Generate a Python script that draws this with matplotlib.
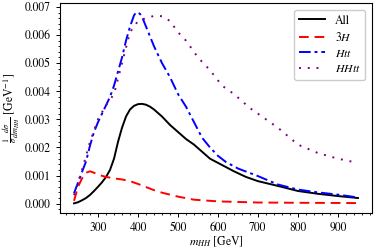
import matplotlib
matplotlib.use("Agg")
import matplotlib.pyplot as plt
from matplotlib.ticker import AutoMinorLocator

plt.rcParams['font.family'] = 'serif'
plt.rcParams['font.serif'] = ['STIXGeneral', 'Liberation Serif', 'DejaVu Serif']
plt.rcParams['mathtext.fontset'] = 'stix'
plt.rcParams['font.size'] = 8.5

# normalised distributions
m_all = [240, 250, 260, 270, 280, 290, 300, 310, 320, 330, 340, 350, 360, 370, 380,
         390, 400, 410, 420, 430, 440, 460, 480, 500, 520, 540, 560, 580, 600, 620,
         640, 670, 700, 750, 800, 850, 900, 950]
all_ = [0.00001, 0.00005, 0.00012, 0.0002, 0.00031, 0.00045, 0.0006, 0.00076, 0.00095,
        0.0012, 0.0016, 0.0022, 0.0027, 0.0031, 0.00335, 0.00348, 0.00354, 0.00355,
        0.00352, 0.00345, 0.00335, 0.0031, 0.0028, 0.00255, 0.0023, 0.0021, 0.00185,
        0.0016, 0.00145, 0.0013, 0.00115, 0.00095, 0.0008, 0.00063, 0.00045, 0.00035,
        0.00027, 0.0002]

m_3h = [240, 250, 260, 270, 280, 290, 300, 320, 340, 360, 380, 400, 420, 440, 460,
        480, 500, 540, 600, 650, 700, 800, 950]
h3 = [0.0001, 0.0006, 0.0009, 0.0011, 0.00115, 0.0011, 0.00103, 0.00095, 0.0009,
      0.00086, 0.0008, 0.0007, 0.00059, 0.00048, 0.00039, 0.00032, 0.00025, 0.00014,
      0.00008, 0.00006, 0.00004, 0.00003, 0.00002]

m_htt = [240, 250, 260, 270, 280, 290, 300, 310, 320, 330, 340, 350, 360, 370, 380,
         390, 395, 400, 405, 410, 420, 440, 460, 480, 500, 520, 540, 560, 580, 600,
         620, 650, 700, 750, 800, 850, 900, 950]
htt = [0.00037, 0.00075, 0.00113, 0.0015, 0.00207, 0.00255, 0.0029, 0.0032, 0.0035,
       0.0038, 0.0042, 0.0047, 0.0052, 0.0058, 0.0063, 0.0067, 0.0068, 0.0068, 0.00675,
       0.00665, 0.0063, 0.0056, 0.005, 0.0045, 0.0039, 0.00345, 0.0029, 0.00235,
       0.002, 0.0017, 0.00148, 0.00125, 0.00098, 0.00068, 0.0005, 0.0004, 0.00032,
       0.00022]

m_hhtt = [240, 260, 280, 300, 320, 340, 360, 380, 400, 420, 440, 460, 480, 500, 520,
          550, 580, 610, 640, 680, 710, 750, 800, 850, 900, 950]
hhtt = [0.0003, 0.0012, 0.0022, 0.003, 0.0035, 0.0039, 0.005, 0.0061, 0.0065, 0.0066,
        0.00668, 0.00667, 0.0065, 0.0061, 0.0058, 0.0052, 0.00475, 0.0042, 0.0039,
        0.0034, 0.0031, 0.0027, 0.0021, 0.0018, 0.0016, 0.00145]

fig = plt.figure(figsize=(3.74, 2.49), dpi=100)
ax = fig.add_axes([0.160, 0.145, 0.835, 0.843])

ax.plot(m_all, all_, color='black', lw=1.4, label='All')
ax.plot(m_3h, h3, color='red', lw=1.4, ls=(0, (5, 3)), label='$3H$')
ax.plot(m_htt, htt, color='blue', lw=1.4, ls=(0, (6, 2, 1.5, 2)), label='$Htt$')
ax.plot(m_hhtt, hhtt, color='purple', lw=1.4, ls=(0, (1, 3.5)), label='$HHtt$')

ax.set_xticks([300, 400, 500, 600, 700, 800, 900])
ax.set_yticks([0.0, 0.001, 0.002, 0.003, 0.004, 0.005, 0.006, 0.007])
ax.set_yticklabels(['0.000', '0.001', '0.002', '0.003', '0.004', '0.005', '0.006', '0.007'])
ax.xaxis.set_minor_locator(AutoMinorLocator(5))
ax.yaxis.set_minor_locator(AutoMinorLocator(5))
ax.tick_params(which='major', length=3, width=0.7)
ax.tick_params(which='minor', length=1.5, width=0.6)

ax.set_xlabel('$m_{HH}$ [GeV]', labelpad=1)
ax.set_ylabel(r'$\frac{1}{\sigma}\frac{d\sigma}{dm_{HH}}$ [GeV$^{-1}$]', labelpad=2)

ax.legend(loc='upper right', fontsize=8.5, handlelength=2.2, borderaxespad=0.6,
          labelspacing=0.35, framealpha=1)

fig.savefig('out.png', dpi=100)
